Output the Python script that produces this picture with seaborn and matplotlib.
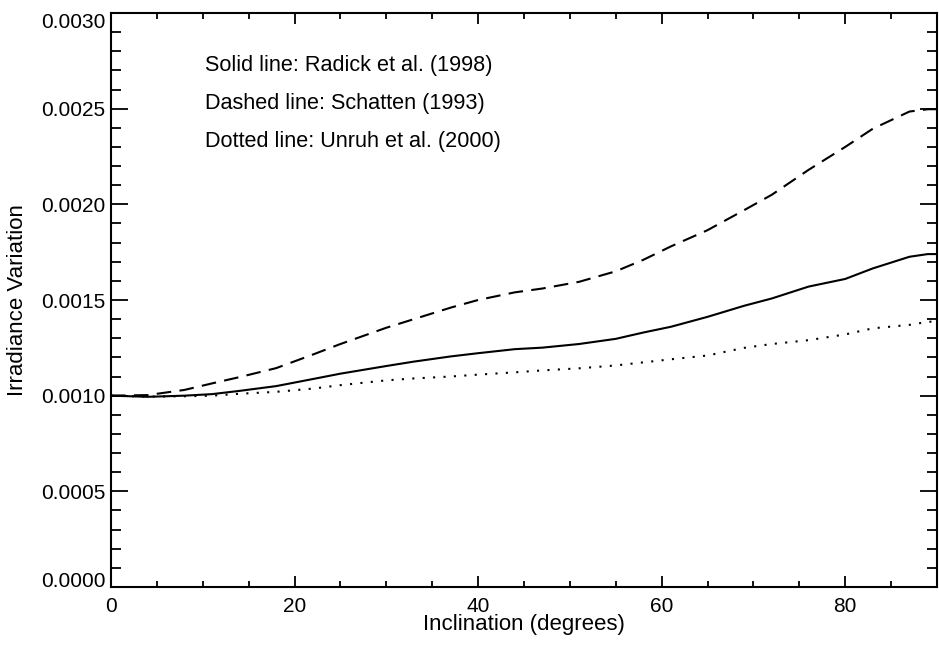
import matplotlib
matplotlib.use("Agg")
import matplotlib.pyplot as plt
from matplotlib.ticker import MultipleLocator, FormatStrFormatter
import seaborn as sns
import pandas as pd

inclination = [0, 4, 8, 11, 14, 18, 22, 25, 30, 33, 37, 40, 44, 47, 51, 55,
               58, 61, 65, 69, 72, 76, 80, 83, 87, 89, 90]
radick = [0.001000, 0.000994, 0.001000, 0.001008, 0.001025, 0.001050, 0.001087,
          0.001115, 0.001155, 0.001178, 0.001205, 0.001222, 0.001243, 0.001251,
          0.001270, 0.001297, 0.001330, 0.001360, 0.001412, 0.001470, 0.001508,
          0.001570, 0.001610, 0.001665, 0.001726, 0.001740, 0.001740]
schatten = [0.001000, 0.001003, 0.001030, 0.001064, 0.001097, 0.001144, 0.001215,
            0.001270, 0.001355, 0.001400, 0.001460, 0.001500, 0.001540, 0.001560,
            0.001595, 0.001650, 0.001710, 0.001780, 0.001865, 0.001970, 0.002050,
            0.002180, 0.002300, 0.002395, 0.002485, 0.002497, 0.002497]
unruh = [0.001000, 0.000995, 0.000997, 0.001000, 0.001010, 0.001020, 0.001037,
         0.001055, 0.001080, 0.001090, 0.001100, 0.001110, 0.001122, 0.001132,
         0.001143, 0.001158, 0.001174, 0.001190, 0.001210, 0.001250, 0.001270,
         0.001290, 0.001320, 0.001352, 0.001370, 0.001386, 0.001388]
series_names = ["Radick", "Schatten", "Unruh"]
annotations = ["Solid line: Radick et al. (1998)",
               "Dashed line: Schatten (1993)",
               "Dotted line: Unruh et al. (2000)"]
x_label = "Inclination (degrees)"
y_label = "Irradiance Variation"

df = pd.concat([
    pd.DataFrame({"Inclination": inclination, "Variation": v, "model": n})
    for n, v in zip(series_names, [radick, schatten, unruh])
])

sns.set_theme(style="ticks")
plt.rcParams['font.family'] = ['Liberation Sans', 'DejaVu Sans']

fig = plt.figure(figsize=(9.39, 6.45), dpi=100)
ax = fig.add_axes([111/939, 58/645, 826/939, 574/645])

sns.lineplot(data=df, x="Inclination", y="Variation", style="model",
             style_order=series_names,
             dashes={"Radick": "", "Schatten": (7, 4), "Unruh": (1, 4)},
             color="black", linewidth=1.5, legend=False, ax=ax, sort=False)

ax.set_xlim(0, 90)
ax.set_ylim(0, 0.0030)
ax.xaxis.set_major_locator(MultipleLocator(20))
ax.xaxis.set_minor_locator(MultipleLocator(5))
ax.yaxis.set_major_locator(MultipleLocator(0.0005))
ax.yaxis.set_minor_locator(MultipleLocator(0.0001))
ax.yaxis.set_major_formatter(FormatStrFormatter("%.4f"))

for s in ax.spines.values():
    s.set_visible(True)
    s.set_linewidth(1.5)
    s.set_color("black")

ax.tick_params(axis="both", which="both", direction="in", top=True, right=True,
               colors="black", labelsize=15, width=1.3)
ax.tick_params(axis="y", which="major", length=12.5, pad=4)
ax.tick_params(axis="y", which="minor", length=7)
ax.tick_params(axis="x", which="major", length=8, pad=7)
ax.tick_params(axis="x", which="minor", length=4)

ax.set_xlabel(x_label, fontsize=16, labelpad=-1, color="black")
ax.set_ylabel(y_label, fontsize=16, labelpad=9, color="black")

ys = [0.9077, 0.8415, 0.7753]
for t, yy in zip(annotations, ys):
    ax.text(0.1138, yy, t, transform=ax.transAxes, fontsize=15.6,
            va="center", ha="left", color="black")

fig.canvas.draw()
yticks = ax.yaxis.get_major_ticks()
for tk in yticks:
    v = tk.get_loc()
    if abs(v - 0.0030) < 1e-9:
        tk.label1.set_va("top")
    elif abs(v) < 1e-9:
        tk.label1.set_va("baseline")

fig.savefig("out.png", dpi=100)
